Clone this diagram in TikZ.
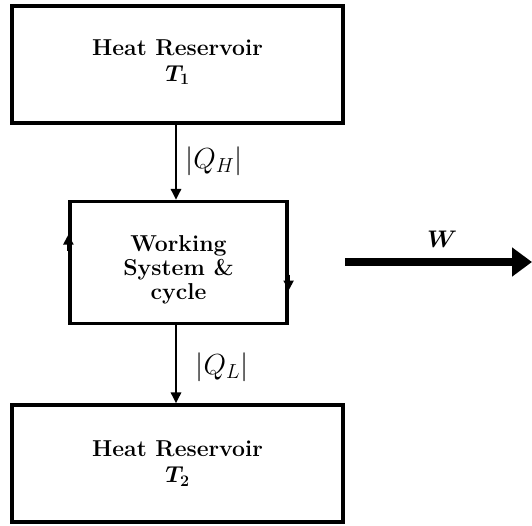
\RequirePackage{fix-cm}
\documentclass[tikz,border=0pt]{standalone}
\usepackage{amsmath}
\usetikzlibrary{arrows.meta,calc}

\begin{document}
\begin{tikzpicture}[x=1pt,y=-1pt,
    reservoir/.style={draw,line width=3.2pt,minimum width=331pt,minimum height=117pt,
        align=center,font=\fontsize{23}{28}\selectfont\bfseries},
    cyclebox/.style={draw,line width=3.2pt,minimum width=217pt,minimum height=122pt,
        align=center,font=\fontsize{23}{24}\selectfont\bfseries},
    heatflow/.style={line width=2.8pt,-{Triangle[length=11pt,width=10pt]}},
    cyclemark/.style={line width=2pt,-{Triangle[length=10pt,width=10pt]}},
    qlabel/.style={font=\fontsize{29}{30}\selectfont}]
    % Colores
    \colorlet{linecolor}{black}

    % Marco
    \useasboundingbox (0,0) rectangle (532,525);

    % Depositos de calor y sistema
    \node[reservoir,linecolor] (hot) at (177.5,64.5) {Heat Reservoir\\[-2pt]$\boldsymbol{T_1}$\\[-20pt]};
    \node[cyclebox,linecolor] (cyc) at (178.5,262.5) {\\[6pt]Working\\System \&\\cycle};
    \node[reservoir,linecolor] (cold) at (177.5,463.5) {Heat Reservoir\\[-2pt]$\boldsymbol{T_2}$};

    % Flujos de calor
    \draw[heatflow] (hot.south -| 176,0) -- (cyc.north -| 176,0);
    \draw[heatflow] (cyc.south -| 176,0) -- (cold.north -| 176,0);
    \node[qlabel] (qh) at (214,161) {$|Q_H|$};
    \node[qlabel] (qc) at (222,367) {$|Q_L|$};

    % Sentido del ciclo
    \draw[linecolor,cyclemark] ($(cyc.west)+(0,-12)$) -- ($(cyc.west)+(0,-28)$);
    \draw[linecolor,cyclemark] ($(cyc.east)+(0,12)$) -- ($(cyc.east)+(0,28)$);

    % Trabajo
    \coordinate (wstart) at (345,262);
    \coordinate (wend) at (532,262);
    \draw[line width=8pt,-{Triangle[length=20pt,width=28pt]}] (wstart) -- (wend)
        node[pos=0.52,above=7pt,font=\fontsize{24}{24}\selectfont] (w) {$\boldsymbol{W}$};

\end{tikzpicture}
\end{document}
